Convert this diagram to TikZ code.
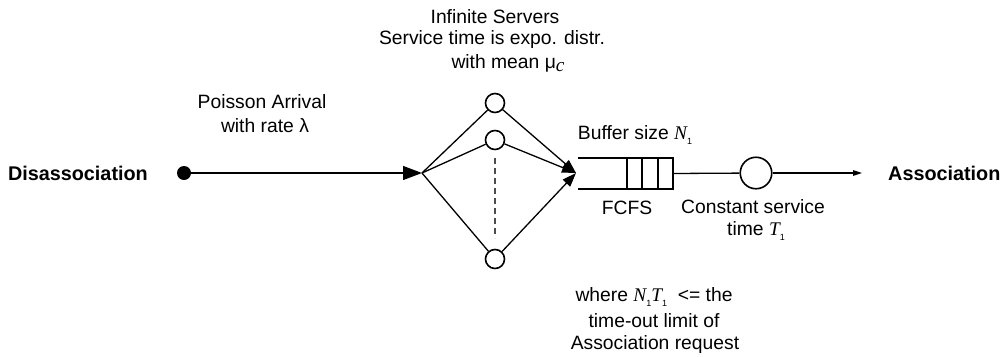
\documentclass[tikz,border=0pt]{standalone}
\usepackage{fontspec}
\setmainfont{Liberation Sans}
\newfontfamily\serifface{Liberation Serif}
\usetikzlibrary{arrows.meta}

% italic serif symbol and a small lowered "1" subscript
\newcommand{\sym}[1]{{\serifface\itshape #1}}
\newcommand{\subone}{\raisebox{-0.45ex}{\fontsize{9}{9}\selectfont 1}}

\begin{document}
\begin{tikzpicture}[x=1pt,y=-1pt,
  txt/.style={font=\fontsize{19.3}{22}\selectfont, inner sep=0pt},
  endlabel/.style={font=\fontsize{19.8}{22}\selectfont\bfseries, inner sep=0pt},
  server/.style={circle, draw, line width=1.6pt, minimum size=19pt, inner sep=0pt},
  bigserver/.style={circle, draw, line width=1.6pt, minimum size=31.5pt, inner sep=0pt},
  flow/.style={line width=1.3pt},
  bigtip/.style={-{Triangle[length=19pt,width=14pt]}},
  fantip/.style={-{Triangle[length=14pt,width=10pt]}},
  smalltip/.style={-{Triangle[length=9pt,width=5.5pt]}},
  buffline/.style={line width=1.8pt}
]
\useasboundingbox (0,0) rectangle (1008,356);

% labels above the infinite-server stage
\node[txt] (t1) at (495,17) {Infinite Servers};
\node[txt] (t2) at (492,40) {Service time is expo. distr.};
\node[txt] (t3) at (508,63) {with mean μ\raisebox{-0.3ex}{\sym{c}}};

% arrival
\node[endlabel, anchor=east] (dis) at (148,173) {Disassociation};
\node[circle, fill, minimum size=14pt, inner sep=0pt] (src) at (184,173) {};
\node[txt] (p1) at (262,102) {Poisson Arrival};
\node[txt] (p2) at (265,126) {with rate λ};
\coordinate (fan) at (422,173);
\draw[flow, bigtip] (src) -- (fan);

% parallel servers
\node[server] (s1) at (495,103) {};
\node[server] (s2) at (495,140) {};
\node[server] (s3) at (495,259) {};
\coordinate (dtop) at (495,158);
\coordinate (dbot) at (495,238);
\draw[line width=1.2pt, gray!60!black, dash pattern=on 6pt off 4pt] (dtop) -- (dbot);
\coordinate (join) at (576,173);
\draw[flow] (fan) -- (s1);
\draw[flow] (fan) -- (s2);
\draw[flow] (fan) -- (s3);
\draw[flow, fantip] (s1) -- (join);
\draw[flow, fantip] (s2) -- (join);
\draw[flow, fantip] (s3) -- (join);

% FCFS buffer
\node[minimum width=95pt, minimum height=31pt, inner sep=0pt] (buf) at (625.5,173.5) {};
\draw[buffline] (buf.north west) -- (buf.north east) -- (buf.south east) -- (buf.south west);
\foreach \xx in {627,642,658}
  \draw[line width=1.4pt] (\xx,158) -- (\xx,189);
\node[txt] (bs) at (635,135) {Buffer size \sym{N}\subone};
\node[txt] (fc) at (627,208) {FCFS};

% constant service station
\node[bigserver] (cs) at (756,173) {};
\draw[flow] (buf.east) -- (cs);
\node[txt] (c1) at (753,207) {Constant service};
\node[txt] (c2) at (756,231) {time \sym{T}\subone};
\coordinate (out) at (862,173);
\draw[flow, smalltip] (cs) -- (out);
\node[endlabel, anchor=west] (as) at (888,173) {Association};

% constraint note
\node[txt] (w1) at (654,297) {where \sym{N}\subone\sym{T}\subone\ \ <= the};
\node[txt] (w2) at (654,321) {time-out limit of};
\node[txt] (w3) at (655,345) {Association request};
\end{tikzpicture}
\end{document}
